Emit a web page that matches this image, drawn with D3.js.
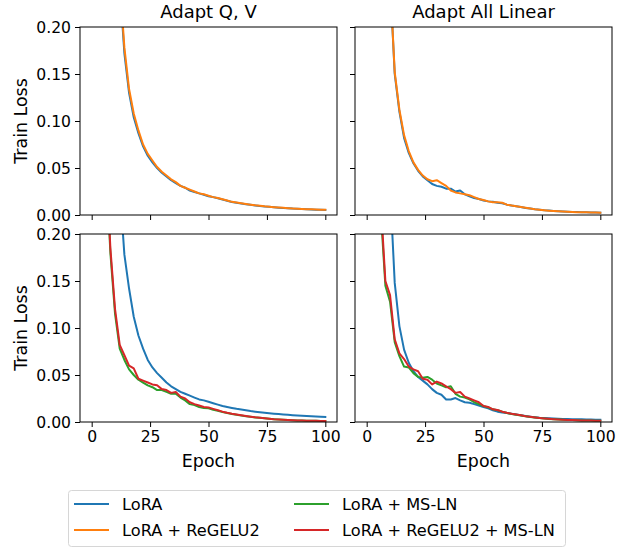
<!DOCTYPE html>
<html>
<head>
<meta charset="utf-8">
<script src="https://cdn.jsdelivr.net/npm/d3@7"></script>
<style>
  body { margin: 0; background: #fff; }
  svg { font-family: "DejaVu Sans", sans-serif; }
</style>
</head>
<body>
<svg id="chart" width="624" height="548"></svg>
<script>
// data (every 2 epochs)

var epochs = [0, 2, 4, 6, 8, 10, 12, 14, 16, 18, 20, 22, 24, 26, 28, 30, 32, 34, 36, 38, 40,
    42, 44, 46, 48, 50, 52, 54, 56, 58, 60, 62, 64, 66, 68, 70, 72, 74, 76, 78, 80,
    82, 84, 86, 88, 90, 92, 94, 96, 98, 100];

var titles = ["Adapt Q, V", "Adapt All Linear"];
var yTicks = [0, 0.05, 0.10, 0.15, 0.20];
var xTicks = [0, 25, 50, 75, 100];

var seriesNames = ["LoRA", "LoRA + ReGELU2", "LoRA + MS-LN", "LoRA + ReGELU2 + MS-LN"];
var colors = ["#1f77b4", "#ff7f0e", "#2ca02c", "#d62728"];

// top row, Adapt Q, V
var qvLora = [1.2, 0.95, 0.75, 0.58, 0.44, 0.33, 0.245, 0.172, 0.130, 0.104, 0.087, 0.073, 0.063, 0.056, 0.050, 0.045, 0.041, 0.037, 0.034, 0.031, 0.029,
    0.026, 0.0245, 0.023, 0.0215, 0.020, 0.019, 0.0178, 0.0165, 0.0152, 0.0138, 0.013, 0.0122, 0.0115, 0.0108, 0.0102, 0.0097, 0.0091, 0.0087, 0.0082, 0.0078,
    0.0075, 0.0072, 0.0068, 0.0066, 0.0063, 0.0061, 0.0059, 0.0057, 0.0055, 0.0054];
var qvRegelu = [1.2, 0.95, 0.75, 0.58, 0.44, 0.33, 0.25, 0.178, 0.134, 0.108, 0.090, 0.075, 0.065, 0.058, 0.051, 0.046, 0.042, 0.038, 0.035, 0.031, 0.029,
    0.027, 0.025, 0.023, 0.022, 0.0205, 0.019, 0.018, 0.0168, 0.0155, 0.014, 0.0132, 0.0124, 0.0117, 0.011, 0.0103, 0.0098, 0.0092, 0.0088, 0.0083, 0.0079,
    0.0076, 0.0073, 0.0069, 0.0066, 0.0064, 0.0062, 0.006, 0.0058, 0.0056, 0.0055];

// top row, Adapt All Linear
var allLora = [1.4, 1.05, 0.78, 0.55, 0.38, 0.25, 0.150, 0.110, 0.082, 0.066, 0.055, 0.047, 0.041, 0.037, 0.033, 0.031, 0.030, 0.028, 0.028, 0.025, 0.026,
    0.022, 0.020, 0.018, 0.017, 0.0155, 0.0145, 0.014, 0.013, 0.0125, 0.011, 0.010, 0.0092, 0.0085, 0.0075, 0.0068, 0.006, 0.0055, 0.005, 0.0047, 0.0043,
    0.004, 0.0037, 0.0035, 0.0033, 0.0031, 0.003, 0.0029, 0.0027, 0.0026, 0.0025];
var allRegelu = [1.4, 1.05, 0.78, 0.55, 0.38, 0.25, 0.152, 0.112, 0.085, 0.068, 0.056, 0.048, 0.042, 0.038, 0.036, 0.037, 0.034, 0.031, 0.026, 0.024, 0.023,
    0.022, 0.021, 0.019, 0.017, 0.016, 0.0145, 0.0135, 0.0135, 0.013, 0.011, 0.0102, 0.0093, 0.0085, 0.0076, 0.0068, 0.006, 0.0055, 0.005, 0.0046, 0.0042,
    0.0039, 0.0036, 0.0034, 0.0032, 0.003, 0.0029, 0.0028, 0.0027, 0.0026, 0.0025];

// bottom row, Adapt Q, V
var qvLora2 = [1.2, 0.95, 0.76, 0.60, 0.47, 0.36, 0.25, 0.178, 0.142, 0.112, 0.092, 0.078, 0.066, 0.058, 0.052, 0.047, 0.042, 0.038, 0.035, 0.032, 0.030,
    0.028, 0.026, 0.024, 0.023, 0.0215, 0.020, 0.0185, 0.017, 0.016, 0.015, 0.014, 0.0132, 0.0124, 0.0116, 0.011, 0.0104, 0.0098, 0.0093, 0.0088, 0.0084,
    0.008, 0.0076, 0.0072, 0.0069, 0.0066, 0.0063, 0.006, 0.0058, 0.0056, 0.0054];
var qvMsln = [1.0, 0.74, 0.47, 0.28, 0.18, 0.115, 0.078, 0.066, 0.056, 0.050, 0.045, 0.042, 0.039, 0.037, 0.034, 0.034, 0.032, 0.030, 0.030, 0.026, 0.023,
    0.019, 0.018, 0.016, 0.015, 0.0145, 0.013, 0.012, 0.0105, 0.0095, 0.0085, 0.0077, 0.007, 0.0062, 0.0055, 0.0049, 0.0044, 0.0039, 0.0034, 0.003, 0.0027,
    0.0024, 0.0021, 0.0019, 0.0017, 0.0015, 0.0014, 0.0013, 0.0012, 0.0011, 0.001];
var qvBoth = [1.0, 0.75, 0.48, 0.29, 0.185, 0.120, 0.082, 0.071, 0.060, 0.057, 0.046, 0.044, 0.042, 0.040, 0.039, 0.035, 0.034, 0.031, 0.032, 0.027, 0.025,
    0.021, 0.019, 0.0175, 0.016, 0.0155, 0.014, 0.0125, 0.011, 0.0098, 0.0088, 0.008, 0.0072, 0.0064, 0.0057, 0.005, 0.0045, 0.004, 0.0035, 0.003, 0.0027,
    0.0024, 0.0021, 0.0019, 0.0017, 0.0015, 0.0014, 0.0013, 0.0012, 0.0011, 0.001];

// bottom row, Adapt All Linear
var allLora2 = [1.4, 1.05, 0.78, 0.55, 0.38, 0.25, 0.148, 0.102, 0.077, 0.063, 0.054, 0.048, 0.044, 0.040, 0.035, 0.031, 0.029, 0.024, 0.024, 0.0255, 0.023,
    0.021, 0.0205, 0.019, 0.0175, 0.016, 0.0145, 0.0125, 0.011, 0.0102, 0.0095, 0.0088, 0.008, 0.0072, 0.0064, 0.0057, 0.0051, 0.0045, 0.0042, 0.004, 0.0037,
    0.0035, 0.0033, 0.0031, 0.003, 0.0029, 0.0028, 0.0027, 0.0026, 0.0025, 0.0025];
var allMsln = [1.0, 0.69, 0.41, 0.225, 0.145, 0.128, 0.085, 0.070, 0.059, 0.058, 0.052, 0.048, 0.047, 0.048, 0.045, 0.041, 0.039, 0.037, 0.038, 0.030, 0.027,
    0.026, 0.024, 0.021, 0.019, 0.017, 0.0155, 0.0135, 0.0125, 0.011, 0.0095, 0.0085, 0.0077, 0.0068, 0.006, 0.0053, 0.0047, 0.0042, 0.0037, 0.0033, 0.003,
    0.0027, 0.0024, 0.0022, 0.002, 0.0018, 0.0017, 0.0016, 0.0015, 0.0014, 0.0013];
var allBoth = [1.0, 0.70, 0.42, 0.235, 0.150, 0.135, 0.088, 0.073, 0.067, 0.059, 0.056, 0.054, 0.046, 0.045, 0.040, 0.043, 0.041, 0.038, 0.035, 0.031, 0.032,
    0.027, 0.025, 0.023, 0.021, 0.017, 0.016, 0.0135, 0.0128, 0.011, 0.0098, 0.0088, 0.008, 0.0071, 0.0062, 0.0055, 0.0049, 0.0043, 0.0038, 0.0034, 0.003,
    0.0027, 0.0024, 0.0022, 0.002, 0.0018, 0.0017, 0.0016, 0.0015, 0.0014, 0.0013];

// panels: row, col and which series go in it
var panels = [
    { row: 0, col: 0, lines: [[0, qvLora], [1, qvRegelu]] },
    { row: 0, col: 1, lines: [[0, allLora], [1, allRegelu]] },
    { row: 1, col: 0, lines: [[0, qvLora2], [2, qvMsln], [3, qvBoth]] },
    { row: 1, col: 1, lines: [[0, allLora2], [2, allMsln], [3, allBoth]] }
];

// layout
var colX = [80, 355],
    rowY = [27, 234],
    panelW = 257,
    panelH = 188,
    tickFont = 15.6,
    labelFont = 17.4,
    titleFont = 18,
    legendFont = 16.2;

var svg = d3.select("#chart");

var x = d3.scaleLinear().domain([-5, 105]).range([0, panelW]);
var y = d3.scaleLinear().domain([0, 0.2]).range([panelH, 0]);

var line = d3.line()
    .x(function (d) { return x(d[0]); })
    .y(function (d) { return y(d[1]); });

panels.forEach(function (p, i) {
    var g = svg.append("g")
        .attr("transform", "translate(" + colX[p.col] + "," + rowY[p.row] + ")");

    svg.append("clipPath").attr("id", "clip" + i)
        .append("rect").attr("width", panelW).attr("height", panelH);

    var plot = g.append("g").attr("clip-path", "url(#clip" + i + ")");

    p.lines.forEach(function (l) {
        var pts = epochs.map(function (e, j) { return [e, l[1][j]]; });
        plot.append("path")
            .datum(pts)
            .attr("fill", "none")
            .attr("stroke", colors[l[0]])
            .attr("stroke-width", 2)
            .attr("stroke-linejoin", "round")
            .attr("stroke-linecap", "square")
            .attr("d", line);
    });

    // axes
    var xAxis = d3.axisBottom(x).tickValues(xTicks).tickSize(5).tickPadding(4);
    if (p.row == 0) xAxis.tickFormat("");
    var yAxis = d3.axisLeft(y).tickValues(yTicks).tickSize(5).tickPadding(4)
        .tickFormat(d3.format(".2f"));
    if (p.col == 1) yAxis.tickFormat("");

    var gx = g.append("g").attr("transform", "translate(0," + panelH + ")").call(xAxis);
    var gy = g.append("g").call(yAxis);

    [gx, gy].forEach(function (a) {
        a.select(".domain").remove();
        a.selectAll(".tick line").attr("stroke", "#000").attr("stroke-width", 1);
        a.selectAll(".tick text")
            .attr("fill", "#000")
            .style("font-family", "DejaVu Sans")
            .style("font-size", tickFont + "px");
    });

    // frame
    g.append("rect")
        .attr("width", panelW)
        .attr("height", panelH)
        .attr("fill", "none")
        .attr("stroke", "#000")
        .attr("stroke-width", 1);

    if (p.row == 0) {
        g.append("text")
            .attr("x", panelW / 2)
            .attr("y", -9)
            .attr("text-anchor", "middle")
            .style("font-size", titleFont + "px")
            .text(titles[p.col]);
    } else {
        g.append("text")
            .attr("x", panelW / 2)
            .attr("y", panelH + 45)
            .attr("text-anchor", "middle")
            .style("font-size", labelFont + "px")
            .text("Epoch");
    }

    if (p.col == 0) {
        g.append("text")
            .attr("transform", "translate(" + (-53) + "," + panelH / 2 + ") rotate(-90)")
            .attr("text-anchor", "middle")
            .style("font-size", labelFont + "px")
            .text("Train Loss");
    }
});

// legend
var legend = svg.append("g").attr("transform", "translate(68,490)");

legend.append("rect")
    .attr("x", 0.5)
    .attr("y", 0.5)
    .attr("width", 497)
    .attr("height", 56)
    .attr("rx", 3)
    .attr("fill", "#fff")
    .attr("stroke", "#d6d6d6")
    .attr("stroke-width", 1);

var legendPos = [[6, 14], [6, 40], [226, 14], [226, 40]];

seriesNames.forEach(function (name, i) {
    var lg = legend.append("g")
        .attr("transform", "translate(" + legendPos[i][0] + "," + legendPos[i][1] + ")");
    lg.append("line")
        .attr("x1", 0).attr("x2", 35)
        .attr("stroke", colors[i])
        .attr("stroke-width", 2);
    lg.append("text")
        .attr("x", 48)
        .attr("dy", "0.35em")
        .style("font-size", legendFont + "px")
        .text(name);
});
</script>
</body>
</html>
